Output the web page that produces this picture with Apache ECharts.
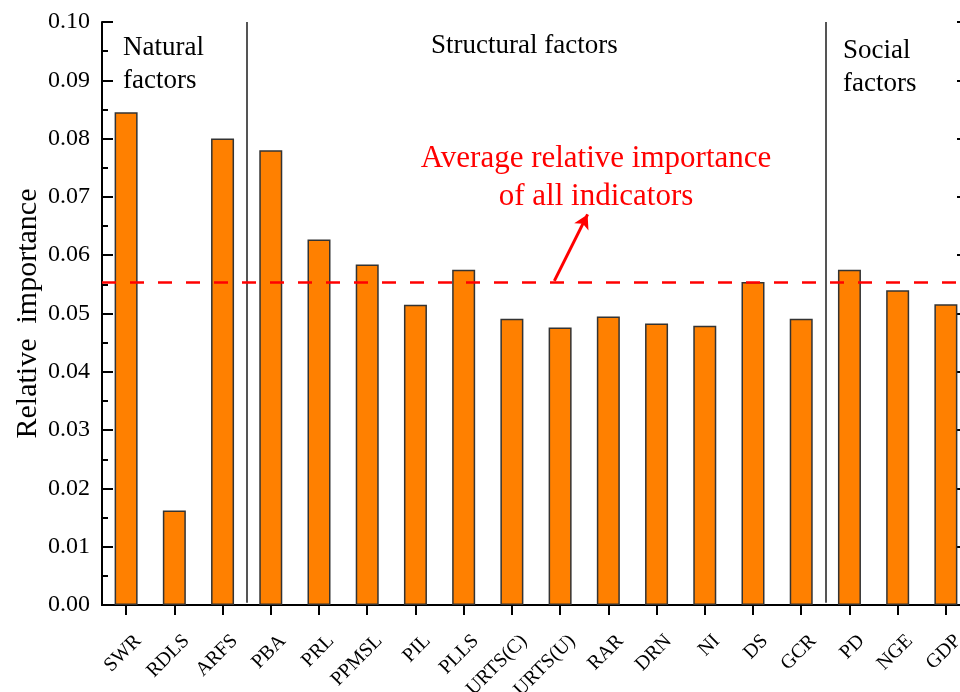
<!DOCTYPE html>
<html>
<head>
<meta charset="utf-8">
<script src="https://cdn.jsdelivr.net/npm/echarts@6/dist/echarts.min.js"></script>
<style>html,body{margin:0;padding:0;background:#fff}#c{width:960px;height:692px}</style>
</head>
<body>
<div id="c"></div>
<script>
const categories = ['SWR','RDLS','ARFS','PBA','PRL','PPMSL','PIL','PLLS','URTS(C)','URTS(U)','RAR','DRN','NI','DS','GCR','PD','NGE','GDP'];
const importance = [0.0845,0.0162,0.0800,0.0780,0.0627,0.0584,0.0515,0.0575,0.0491,0.0476,0.0495,0.0483,0.0479,0.0554,0.0491,0.0575,0.0540,0.0516];
const avgImportance = 0.0554;
const yTicks = {min: 0, max: 0.10, interval: 0.01};
// group separators, in category-index units (between categories)
const groupBoundaries = [3, 15];
// arrow annotation in data units [categoryPosition, value]
const arrowStart = [9.38, 0.0556];
const arrowEnd = [10.07, 0.0670];

const FONT = 'Liberation Serif, "Times New Roman", serif';
const chart = echarts.init(document.getElementById('c'), null, {renderer: 'canvas'});

const sepLines = groupBoundaries.map(b => [
  {coord: [b, 0.0004]},
  {coord: [b, yTicks.max]}
]);

chart.setOption({
  animation: false,
  backgroundColor: '#fff',
  grid: {left: 102, right: -10, top: 22, bottom: 87, containLabel: false, outerBoundsMode: 'none'},
  xAxis: [
    {
      type: 'category', data: categories, position: 'bottom',
      axisLine: {lineStyle: {color: '#000', width: 2}},
      axisTick: {show: true, alignWithLabel: true, inside: false, length: 10, lineStyle: {color: '#000', width: 2}},
      axisLabel: {rotate: 45, fontFamily: FONT, fontSize: 20, color: '#000', margin: 21, interval: 0, align: 'right', verticalAlign: 'top', lineHeight: 34},
      splitLine: {show: false}
    },
    {
      type: 'category', data: categories, position: 'top',
      axisLine: {lineStyle: {color: '#000', width: 2}},
      axisTick: {show: false}, axisLabel: {show: false}, splitLine: {show: false}
    },
    {
      type: 'value', min: 0, max: categories.length, show: false
    }
  ],
  yAxis: [
    {
      type: 'value', min: yTicks.min, max: yTicks.max, interval: yTicks.interval, position: 'left',
      name: 'Relative  importance', nameLocation: 'middle', nameGap: 59, nameRotate: 90, nameMoveOverlap: false,
      nameTextStyle: {fontFamily: FONT, fontSize: 30, color: '#000'},
      axisLine: {show: true, lineStyle: {color: '#000', width: 2}},
      axisTick: {show: true, inside: true, length: 11, lineStyle: {color: '#000', width: 2}},
      minorTick: {show: true, splitNumber: 2, length: 6, lineStyle: {color: '#000', width: 2}},
      axisLabel: {fontFamily: FONT, fontSize: 24, color: '#000', margin: 12, formatter: v => v.toFixed(2)},
      splitLine: {show: false}
    },
    {
      type: 'value', min: yTicks.min, max: yTicks.max, interval: yTicks.interval, position: 'right',
      axisLine: {show: true, lineStyle: {color: '#000', width: 2}},
      axisTick: {show: true, inside: true, length: 13, lineStyle: {color: '#000', width: 2}},
      axisLabel: {show: false}, splitLine: {show: false}
    }
  ],
  series: [
    {
      type: 'bar', data: importance, xAxisIndex: 0, yAxisIndex: 0, barWidth: 23,
      itemStyle: {color: '#FF8000', borderColor: '#333', borderWidth: 1.5},
      markLine: {
        silent: true, symbol: ['none', 'none'], z: 10, precision: 5,
        label: {show: false},
        lineStyle: {color: '#FF0000', type: [14, 14], width: 2.5},
        data: [{yAxis: avgImportance}]
      }
    },
    {
      type: 'line', data: [], xAxisIndex: 2, yAxisIndex: 0,
      markLine: {
        silent: true, symbol: ['none', 'none'], precision: 5,
        label: {show: false},
        lineStyle: {color: '#555', type: 'solid', width: 2},
        data: sepLines
      }
    },
    {
      type: 'line', data: [], xAxisIndex: 2, yAxisIndex: 0,
      markLine: {
        silent: true, symbol: ['none', 'arrow'], symbolSize: [12, 14], precision: 5,
        label: {show: false},
        lineStyle: {color: '#FF0000', type: 'solid', width: 3},
        data: [[{coord: arrowStart}, {coord: arrowEnd}]]
      }
    }
  ],
  graphic: [
    {type: 'text', left: 123, top: 31, style: {text: 'Natural\nfactors', font: '27px ' + FONT, fill: '#000', lineHeight: 33}},
    {type: 'text', left: 431, top: 32, style: {text: 'Structural factors', font: '27px ' + FONT, fill: '#000'}},
    {type: 'text', left: 843, top: 34, style: {text: 'Social\nfactors', font: '27px ' + FONT, fill: '#000', lineHeight: 33}},
    {type: 'text', x: 596, y: 140, style: {text: 'Average relative importance\nof all indicators', font: '31px ' + FONT, fill: '#FF0000', align: 'center', lineHeight: 38}}
  ]
});
</script>
</body>
</html>
